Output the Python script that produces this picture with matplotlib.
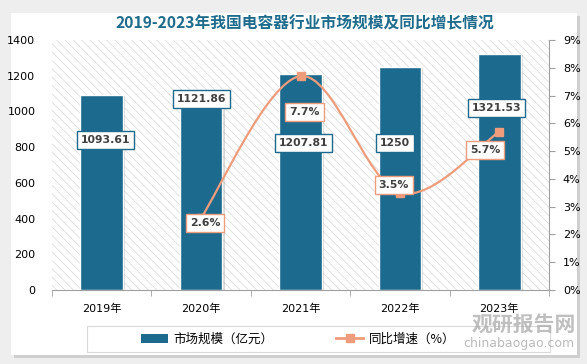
import numpy as np
import matplotlib
matplotlib.use('Agg')
import matplotlib.pyplot as plt
from matplotlib.patches import Rectangle, Patch, PathPatch
from matplotlib.lines import Line2D
from matplotlib.path import Path
import matplotlib.patheffects as pe

plt.rcParams['font.family'] = ['DejaVu Sans', 'Noto Sans CJK SC']
plt.rcParams['hatch.linewidth'] = 0.5
plt.rcParams['hatch.color'] = '#D6D6D6'

# data
years = ['2019年', '2020年', '2021年', '2022年', '2023年']
market_size = [1093.61, 1121.86, 1207.81, 1250, 1321.53]
size_labels = ['1093.61', '1121.86', '1207.81', '1250', '1321.53']
growth = [2.6, 7.7, 3.5, 5.7]  # 2020-2023
growth_labels = ['2.6%', '7.7%', '3.5%', '5.7%']

# label placement (manual, as in the source chart)
size_lab_xoff = [0.04, 0.0, 0.03, -0.05, -0.03]
size_lab_y = [840, 1070, 823, 823, 1019]
gr_lab_xoff = [0.04, 0.04, -0.06, -0.14]
gr_lab_y = [2.41, 6.41, 3.78, 5.04]

bar_color = '#1C6A8D'
line_color = '#EE9C7B'
text_color = '#404040'

fig = plt.figure(figsize=(5.87, 3.64), dpi=100, facecolor='#EEEEEE')

# white panel with soft shadow
panel = Rectangle((11 / 587, 1 - 355 / 364), 566 / 587, 342 / 364, transform=fig.transFigure,
                  facecolor='white', edgecolor='none', zorder=-2,
                  path_effects=[pe.SimplePatchShadow(offset=(2, -2), shadow_rgbFace='#BBBBBB', alpha=0.6),
                                pe.Normal()])
fig.patches.append(panel)

ax = fig.add_axes([52 / 587, 1 - 290 / 364, 497 / 587, 250 / 364])
ax.set_facecolor('none')
x = np.arange(len(years))
ax.set_xlim(-0.5, len(years) - 0.5)
ax.set_ylim(0, 1400)

# hatched plot background
bg = Rectangle((0, 0), 1, 1, transform=ax.transAxes, facecolor='white',
               edgecolor='#D6D6D6', linewidth=0, hatch='\\\\\\\\', zorder=0)
ax.add_patch(bg)

bars = ax.bar(x, market_size, width=0.43, color=bar_color, edgecolor='white', linewidth=1, zorder=3)
for b in bars:
    b.set_path_effects([pe.SimplePatchShadow(offset=(1.5, -1), shadow_rgbFace='#555555', alpha=0.22),
                        pe.Normal()])

ax.set_yticks(range(0, 1401, 200))
ax.set_xticks(x)
ax.set_xticklabels(years)
ax.set_xticks(np.arange(-0.5, len(years), 1), minor=True)
ax.tick_params(axis='x', which='major', length=0, pad=10, labelsize=8, labelcolor='black')
ax.tick_params(axis='x', which='minor', length=4, color='#A0A0A0', direction='out')
ax.tick_params(axis='y', length=0, pad=12, labelsize=8, labelcolor='black')
for s in ['top', 'right', 'left']:
    ax.spines[s].set_visible(False)
ax.spines['bottom'].set_color('#A0A0A0')
ax.spines['bottom'].set_zorder(4)

for i, lab in enumerate(size_labels):
    ax.text(x[i] + size_lab_xoff[i], size_lab_y[i], lab, ha='center', va='center',
            fontsize=7.8, fontweight='bold', color=text_color, zorder=6,
            bbox=dict(boxstyle='square,pad=0.35', fc='white', ec=bar_color, lw=1))

ax2 = ax.twinx()
ax2.set_ylim(0, 9)
ax2.set_yticks(range(0, 10))
ax2.set_yticklabels(['%d%%' % v for v in range(0, 10)])
ax2.tick_params(axis='y', length=4, color='#A0A0A0', pad=6, labelsize=8, labelcolor='black')
for s in ['top', 'left', 'bottom']:
    ax2.spines[s].set_visible(False)
ax2.spines['right'].set_color('#A0A0A0')

# smooth line (Catmull-Rom through the points, in screen space)
gx = x[1:]
pts = ax2.transData.transform(np.column_stack([gx, growth]))
verts = [pts[0]]
codes = [Path.MOVETO]
n = len(pts)
for i in range(n - 1):
    p0 = pts[i - 1] if i > 0 else pts[i]
    p1 = pts[i]
    p2 = pts[i + 1]
    p3 = pts[i + 2] if i + 2 < n else pts[i + 1]
    c1 = p1 + (p2 - p0) / 6
    c2 = p2 - (p3 - p1) / 6
    verts += [c1, c2, p2]
    codes += [Path.CURVE4] * 3
verts = ax2.transData.inverted().transform(np.array(verts))
curve = PathPatch(Path(verts, codes), facecolor='none', edgecolor=line_color, lw=1.6, zorder=4,
                  transform=ax2.transData)
ax2.add_patch(curve)
ax2.plot(gx, growth, linestyle='none', marker='s', markersize=6, color=line_color, zorder=5)

for i, lab in enumerate(growth_labels):
    ax2.text(gx[i] + gr_lab_xoff[i], gr_lab_y[i], lab, ha='center', va='center',
             fontsize=7.8, fontweight='bold', color=text_color, zorder=6,
             bbox=dict(boxstyle='square,pad=0.35', fc='white', ec=line_color, lw=1))

# title
fig.text(305 / 587, 1 - 23 / 364, '2019-2023年我国电容器行业市场规模及同比增长情况',
         ha='center', va='center', fontsize=11.3, fontweight='bold', color='#1F6B8C',
         family=['Noto Sans CJK SC'])

# legend box + legend
fig.patches.append(Rectangle((87 / 587, 1 - 352 / 364), 463 / 587, 26 / 364, transform=fig.transFigure,
                             facecolor='white', edgecolor='#D9D9D9', lw=0.8, zorder=-1))
handles = [Patch(facecolor=bar_color, edgecolor='none'),
           Line2D([], [], color=line_color, lw=2, marker='s', markersize=6)]
fig.legend(handles, ['市场规模（亿元）', '同比增速（%）'], loc='center',
           bbox_to_anchor=(298 / 587, 1 - 339 / 364), ncol=2, frameon=False,
           prop={'family': ['Noto Sans CJK SC'], 'size': 9}, columnspacing=5,
           handlelength=2.2, handletextpad=0.4)

# watermark
fig.text(524 / 587, 1 - 324 / 364, '观研报告网', ha='center', va='center', fontsize=15,
         fontweight='bold', color='#A5A5A5', alpha=0.7, family=['Noto Sans CJK SC'])
fig.text(519 / 587, 1 - 344 / 364, 'chinabaogao.com', ha='center', va='center', fontsize=9,
         color='#A5A5A5', alpha=0.75)

fig.savefig('out.png', dpi=100, facecolor=fig.get_facecolor())
